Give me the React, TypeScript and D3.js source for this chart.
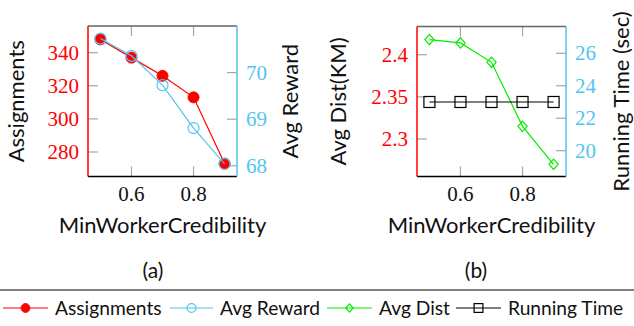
import React from "react";
import * as d3 from "d3";

const xValues = [0.5, 0.6, 0.7, 0.8, 0.9];
const assignments = [348, 337, 326, 313, 273];
const avgReward = [70.73, 70.36, 69.73, 68.81, 68.04];
const avgDist = [2.418, 2.414, 2.391, 2.315, 2.27];
const runningTime = [23.0, 23.0, 23.0, 23.0, 23.0];

const xTicks = [0.6, 0.8];
const assignTicks = [280, 300, 320, 340];
const rewardTicks = [68, 69, 70];
const distTicks = [2.3, 2.35, 2.4];
const timeTicks = [20, 22, 24, 26];

const xDomain = [0.46, 0.94];
const assignDomain = [265.2, 356.1];
const rewardDomain = [67.77, 71.0];
const distDomain = [2.2555, 2.4335];
const timeDomain = [18.41, 27.65];

const RED = "#ff0000";
const BLUE = "#52c5f2";
const GREEN = "#00ee00";
const BLACK = "#000000";
const TICK = "#a6a6a6";
const SANS = "Lato, 'Open Sans', sans-serif";
const SERIF = "'Liberation Serif', 'DejaVu Serif', serif";

type Marker = "dot" | "circle" | "diamond" | "square";

function MarkerShape({ kind, x, y, color, scale = 1 }: { kind: Marker; x: number; y: number; color: string; scale?: number }) {
  if (kind === "dot") return <circle cx={x} cy={y} r={5.5 * scale} fill={color} stroke={color} strokeWidth={1} />;
  if (kind === "circle") return <circle cx={x} cy={y} r={5.5 * scale} fill="none" stroke={color} strokeWidth={1.2} />;
  if (kind === "diamond") {
    const h = 5.2 * scale;
    const w = 4.6 * scale;
    return <path d={`M${x},${y - h}L${x + w},${y}L${x},${y + h}L${x - w},${y}Z`} fill="none" stroke={color} strokeWidth={1.2} />;
  }
  const s = 5.5 * scale;
  return <rect x={x - s} y={y - s} width={2 * s} height={2 * s} fill="none" stroke={color} strokeWidth={1.2} />;
}

function Series({ xs, ys, x, y, color, kind }: any) {
  const line = d3.line<number>().x((_, i) => x(xs[i])).y((d) => y(d));
  return (
    <g>
      <path d={line(ys) || ""} fill="none" stroke={color} strokeWidth={1.2} />
      {ys.map((v: number, i: number) => (
        <MarkerShape key={i} kind={kind} x={x(xs[i])} y={y(v)} color={color} />
      ))}
    </g>
  );
}

function Panel(props: {
  left: number; right: number; top: number; bottom: number;
  leftDomain: number[]; rightDomain: number[];
  leftTicks: number[]; rightTicks: number[];
  leftColor: string; rightColor: string;
  leftLabel: string; rightLabel: string;
  leftLabelX: number; rightLabelX: number;
  s1: { ys: number[]; color: string; kind: Marker };
  s2: { ys: number[]; color: string; kind: Marker };
  caption: string; captionX: number;
}) {
  const { left, right, top, bottom } = props;
  const x = d3.scaleLinear().domain(xDomain).range([left, right]);
  const yL = d3.scaleLinear().domain(props.leftDomain).range([bottom, top]);
  const yR = d3.scaleLinear().domain(props.rightDomain).range([bottom, top]);
  const tl = 10;
  const midY = (top + bottom) / 2;
  const midX = (left + right) / 2;
  return (
    <g>
      {xTicks.map((t) => (
        <g key={"x" + t}>
          <line x1={x(t)} x2={x(t)} y1={top} y2={top + tl} stroke={TICK} strokeWidth={1.2} />
          <line x1={x(t)} x2={x(t)} y1={bottom} y2={bottom - tl} stroke={TICK} strokeWidth={1.2} />
          <text x={x(t)} y={201} textAnchor="middle" fontFamily={SERIF} fontSize={21} fill="#111">{t.toFixed(1)}</text>
        </g>
      ))}
      {props.leftTicks.map((t) => (
        <g key={"l" + t}>
          <line x1={left} x2={left + tl} y1={yL(t)} y2={yL(t)} stroke={TICK} strokeWidth={1.2} />
          <text x={left - 9} y={yL(t)} dy="0.34em" textAnchor="end" fontFamily={SERIF} fontSize={21} fill={props.leftColor}>{String(t)}</text>
        </g>
      ))}
      {props.rightTicks.map((t) => (
        <g key={"r" + t}>
          <line x1={right} x2={right - tl} y1={yR(t)} y2={yR(t)} stroke={TICK} strokeWidth={1.2} />
          <text x={right + 9} y={yR(t)} dy="0.34em" textAnchor="start" fontFamily={SERIF} fontSize={21} fill={props.rightColor}>{String(t)}</text>
        </g>
      ))}
      <Series xs={xValues} ys={props.s1.ys} x={x} y={yL} color={props.s1.color} kind={props.s1.kind} />
      <Series xs={xValues} ys={props.s2.ys} x={x} y={yR} color={props.s2.color} kind={props.s2.kind} />
      <line x1={left} x2={right} y1={top} y2={top} stroke="#666" strokeWidth={1.5} />
      <line x1={left} x2={right} y1={bottom} y2={bottom} stroke="#000" strokeWidth={1.5} />
      <line x1={left} x2={left} y1={top} y2={bottom} stroke={RED} strokeWidth={1.5} />
      <line x1={right} x2={right} y1={top} y2={bottom} stroke={BLUE} strokeWidth={1.5} />
      <text transform={`translate(${props.leftLabelX},${midY}) rotate(-90)`} textAnchor="middle" fontFamily={SANS} fontSize={22} fill="#111">{props.leftLabel}</text>
      <text transform={`translate(${props.rightLabelX},${midY}) rotate(-90)`} textAnchor="middle" fontFamily={SANS} fontSize={22} fill="#111">{props.rightLabel}</text>
      <text x={midX} y={233} textAnchor="middle" fontFamily={SANS} fontSize={22} fill="#111">MinWorkerCredibility</text>
      <text x={props.captionX} y={278} textAnchor="middle" fontFamily={SANS} fontSize={21} fill="#111">{props.caption}</text>
    </g>
  );
}

const legendItems: { label: string; color: string; kind: Marker; x0: number; x1: number }[] = [
  { label: "Assignments", color: RED, kind: "dot", x0: 3, x1: 48 },
  { label: "Avg Reward", color: BLUE, kind: "circle", x0: 170, x1: 213 },
  { label: "Avg Dist", color: GREEN, kind: "diamond", x0: 327, x1: 372 },
  { label: "Running Time", color: BLACK, kind: "square", x0: 456, x1: 501 },
];

export default function App() {
  return (
    <svg width={634} height={326} style={{ position: "absolute", left: 0, top: 0, background: "#fff" }}>
      <rect width={634} height={326} fill="#fff" />
      <Panel
        left={88} right={237} top={26} bottom={176.5}
        leftDomain={assignDomain} rightDomain={rewardDomain}
        leftTicks={assignTicks} rightTicks={rewardTicks}
        leftColor={RED} rightColor={BLUE}
        leftLabel="Assignments" rightLabel="Avg Reward"
        leftLabelX={24} rightLabelX={298}
        s1={{ ys: assignments, color: RED, kind: "dot" }}
        s2={{ ys: avgReward, color: BLUE, kind: "circle" }}
        caption="(a)" captionX={153}
      />
      <Panel
        left={417} right={566} top={26.5} bottom={176.5}
        leftDomain={distDomain} rightDomain={timeDomain}
        leftTicks={distTicks} rightTicks={timeTicks}
        leftColor={RED} rightColor={BLUE}
        leftLabel="Avg Dist(KM)" rightLabel="Running Time (sec)"
        leftLabelX={346} rightLabelX={629}
        s1={{ ys: avgDist, color: GREEN, kind: "diamond" }}
        s2={{ ys: runningTime, color: BLACK, kind: "square" }}
        caption="(b)" captionX={476}
      />
      <line x1={0} x2={634} y1={290} y2={290} stroke="#000" strokeWidth={1} />
      {legendItems.map((it) => (
        <g key={it.label}>
          <line x1={it.x0} x2={it.x1} y1={308} y2={308} stroke={it.color} strokeWidth={1.2} />
          <MarkerShape kind={it.kind} x={(it.x0 + it.x1) / 2} y={308} color={it.color} scale={0.8} />
          <text x={it.x1 + 7} y={308} dy="0.35em" fontFamily={SANS} fontSize={19.2} fill="#111">{it.label}</text>
        </g>
      ))}
    </svg>
  );
}
